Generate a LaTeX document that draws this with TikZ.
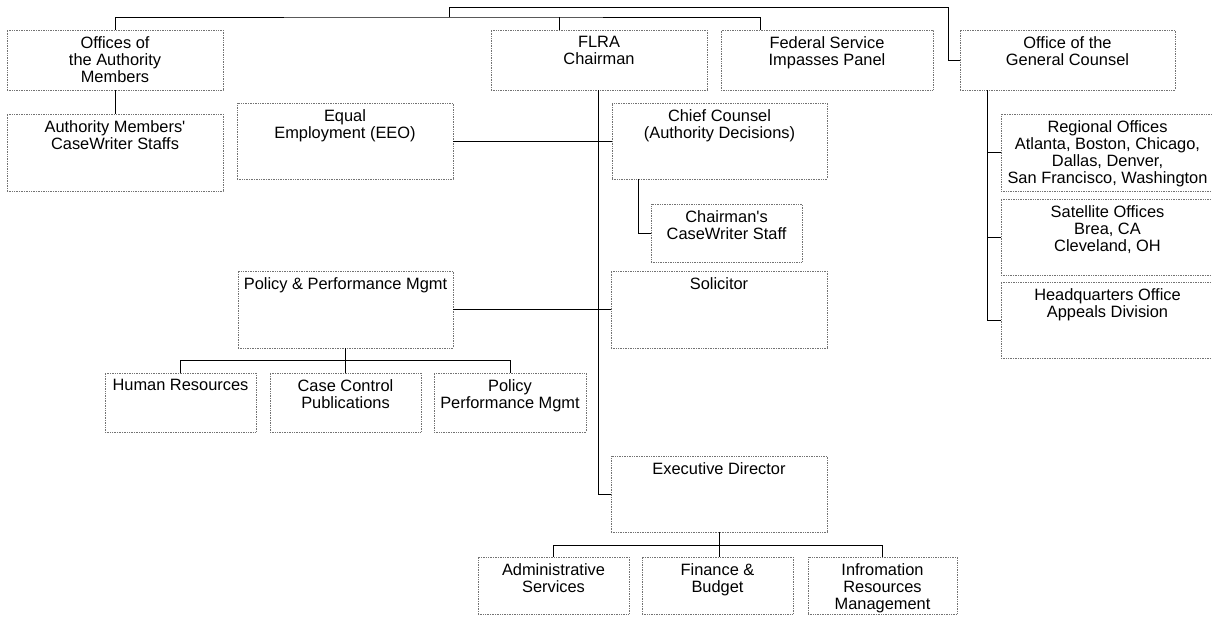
\documentclass[tikz,border=0pt]{standalone}
\usepackage{fontspec}
\setmainfont{Liberation Sans}
\begin{document}
\begin{tikzpicture}[x=1pt,y=-1pt,
  box/.style={draw=black!55, densely dotted, line width=0.7pt, inner sep=0pt, outer sep=0pt, rectangle},
  lbl/.style={anchor=north, yshift=-6pt, inner sep=0pt, align=center, font=\fontsize{16.4}{17}\selectfont},
  conn/.style={draw=black, line width=0.8pt}]
\useasboundingbox (0,0) rectangle (1212,616);
% top row
\node[box, minimum width=216, minimum height=60, label={[lbl]north:{Offices of\\the Authority\\Members}}] (auth) at (115,60) {};
\node[box, minimum width=216, minimum height=60, label={[lbl]north:{FLRA\\Chairman}}] (flra) at (599,60) {};
\node[box, minimum width=212, minimum height=60, label={[lbl]north:{Federal Service\\Impasses Panel}}] (fsip) at (827,60) {};
\node[box, minimum width=215, minimum height=60, label={[lbl]north:{Office of the\\General Counsel}}] (ogc) at (1067.5,60) {};
% left
\node[box, minimum width=216, minimum height=77, label={[lbl]north:{Authority Members\textquotesingle\\CaseWriter Staffs}}] (amcs) at (115,152.5) {};
\node[box, minimum width=216, minimum height=76, label={[lbl]north:{Equal\\Employment (EEO)}}] (eeo) at (345,141) {};
\node[box, minimum width=215, minimum height=76, label={[lbl]north:{Chief Counsel\\(Authority Decisions)}}] (cc) at (719.5,141) {};
\node[box, minimum width=151, minimum height=58, label={[lbl]north:{Chairman\textquotesingle s\\CaseWriter Staff}}] (cws) at (726.5,233) {};
\node[box, minimum width=216, minimum height=77, label={[lbl]north:{Solicitor}}] (sol) at (719,309.5) {};
\node[box, minimum width=215, minimum height=77, label={[lbl]north:{Policy \& Performance Mgmt}}] (pol) at (345.5,309.5) {};
\node[box, minimum width=151, minimum height=59, label={[lbl]north:{Human Resources}}] (hr) at (180.5,402.5) {};
\node[box, minimum width=151, minimum height=59, label={[lbl]north:{Case Control\\Publications}}] (ccp) at (345.5,402.5) {};
\node[box, minimum width=152, minimum height=59, label={[lbl]north:{Policy\\Performance Mgmt}}] (ppm) at (510,402.5) {};
\node[box, minimum width=216, minimum height=76, label={[lbl]north:{Executive Director}}] (exec) at (719,494) {};
\node[box, minimum width=151, minimum height=57, label={[lbl]north:{Administrative\\Services}}] (adm) at (553.5,585.5) {};
\node[box, minimum width=151, minimum height=57, label={[lbl]north:{Finance \&\\Budget}}] (fin) at (717.5,585.5) {};
\node[box, minimum width=149, minimum height=57, label={[lbl]north:{Infromation\\Resources\\Management}}] (irm) at (882.5,585.5) {};
% right column
\node[box, minimum width=213, minimum height=77, label={[lbl]north:{Regional Offices\\Atlanta, Boston, Chicago,\\Dallas, Denver,\\San Francisco, Washington}}] (reg) at (1107.5,152.5) {};
\node[box, minimum width=213, minimum height=76, label={[lbl]north:{Satellite Offices\\Brea, CA\\Cleveland, OH}}] (sat) at (1107.5,237) {};
\node[box, minimum width=213, minimum height=76, label={[lbl]north:{Headquarters Office\\Appeals Division}}] (hq) at (1107.5,320) {};
% connectors
\coordinate (busA) at (449,17);
\coordinate (busB) at (449,7);
\draw[conn] (auth.north) |- (busA) -| ([xshift=-67pt]fsip.north);
\draw[conn] ([xshift=-40pt]flra.north) -- ([xshift=-40pt]flra.north |- busA);
\draw[conn] (busA) -- (busB) -| ([xshift=-12pt]ogc.west) -- (ogc.west);
\draw[conn] (auth.south) -- (amcs.north);
\draw[conn] ([xshift=-1pt]flra.south) |- (exec.west);
\draw[conn] (eeo.east) -- (cc.west);
\draw[conn] (pol.east) -- (sol.west);
\draw[conn] ([xshift=26pt]cc.south west) |- (cws.west);
\draw[conn] (hr.north) -- ++(0,-13) -| (ppm.north);
\draw[conn] (pol.south) -- (ccp.north);
\draw[conn] (adm.north) -- ++(0,-12) -| (irm.north);
\draw[conn] (exec.south) -- (exec.south |- fin.north);
\draw[conn] ([xshift=27pt]ogc.south west) |- (hq.west);
\draw[conn] (reg.west) -- ++(-14,0);
\draw[conn] (sat.west) -- ++(-14,0);
\end{tikzpicture}
\end{document}
